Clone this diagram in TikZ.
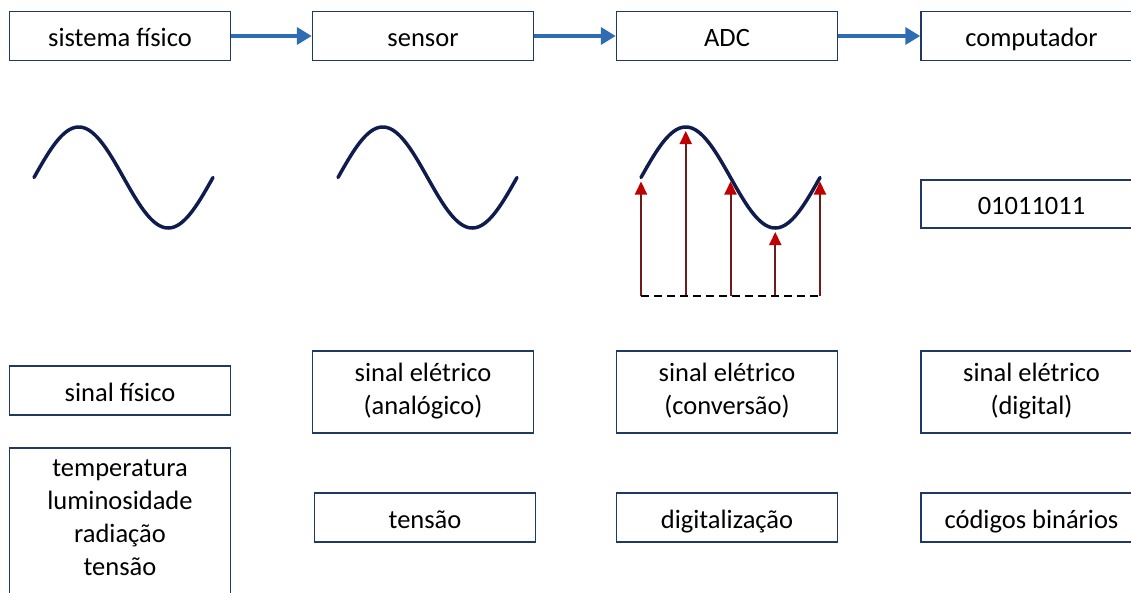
\documentclass[tikz,border=0pt]{standalone}
\usepackage{fontspec}
\setmainfont{Carlito}
\usetikzlibrary{arrows.meta}
\definecolor{boxblue}{HTML}{203864}
\definecolor{flowblue}{HTML}{2E6DB4}
\definecolor{wavenavy}{HTML}{0F1C4D}
\definecolor{sampred}{HTML}{C00000}
\definecolor{stemred}{HTML}{6E1B1B}
\newcommand\boxstrut{\rule[-6pt]{0pt}{33pt}}

\begin{document}
\begin{tikzpicture}[x=1pt,y=-1pt,
		blk/.style={draw=boxblue,line width=1.5pt,minimum width=221pt,align=center,inner sep=0pt,
			font=\fontsize{26.5}{33}\selectfont,execute at begin node=\boxstrut,execute at end node=\boxstrut},
		flow/.style={draw=flowblue,line width=4.5pt,-{Triangle[length=15pt,width=17pt]}},
		wave/.style={draw=wavenavy,line width=3.5pt,line cap=round,line join=round},
		samp/.style={draw=stemred,line width=2pt,-{Triangle[length=13pt,width=12pt,color=sampred]}}]
	\useasboundingbox (0,0) rectangle (1131,592);
	% chain of stages
	\node[blk,minimum height=49pt] (sis) at (120,36) {sistema físico};
	\node[blk,minimum height=49pt] (sen) at (423,36) {sensor};
	\node[blk,minimum height=49pt] (adc) at (727,36) {ADC};
	\node[blk,minimum height=49pt] (cmp) at (1031.5,36) {computador};
	\draw[flow] (sis) -- (sen);
	\draw[flow] (sen) -- (adc);
	\draw[flow] (adc) -- (cmp);
	% signals
	\foreach \xs in {34,338,641}{
		\draw[wave] plot[domain=0:360,samples=145] ({\xs+\x/360*179},{177.5-50.5*sin(\x)});
	}
	% samples taken by the ADC
	\foreach \k in {0,...,4}{
		\coordinate (foot\k) at ({641+\k*44.75},296);
		\coordinate (tip\k) at ({641+\k*44.75},{181.5-50.5*sin(\k*90)});
		\draw[samp] (foot\k) -- (tip\k);
	}
	\draw[black,line width=1.8pt,dash pattern=on 8pt off 5pt] (foot0) -- (foot4);
	\node[blk,minimum height=48pt] (bin) at (1031.5,204) {01011011};
	% kind of signal
	\node[blk,minimum height=49pt] (fis) at (120,390.5) {sinal físico};
	\node[blk,minimum height=82pt] (ana) at (423,392) {sinal elétrico\\(analógico)};
	\node[blk,minimum height=82pt] (con) at (727,392) {sinal elétrico\\(conversão)};
	\node[blk,minimum height=82pt] (dig) at (1031.5,392) {sinal elétrico\\(digital)};
	% quantities
	\node[blk,minimum height=146pt] (lst) at (120,521) {temperatura\\luminosidade\\radiação\\tensão};
	\node[blk,minimum height=49pt] (ten) at (425,517.5) {tensão};
	\node[blk,minimum height=49pt] (dgt) at (727,517.5) {digitalização};
	\node[blk,minimum height=49pt] (cod) at (1031.5,517.5) {códigos binários};
\end{tikzpicture}
\end{document}
